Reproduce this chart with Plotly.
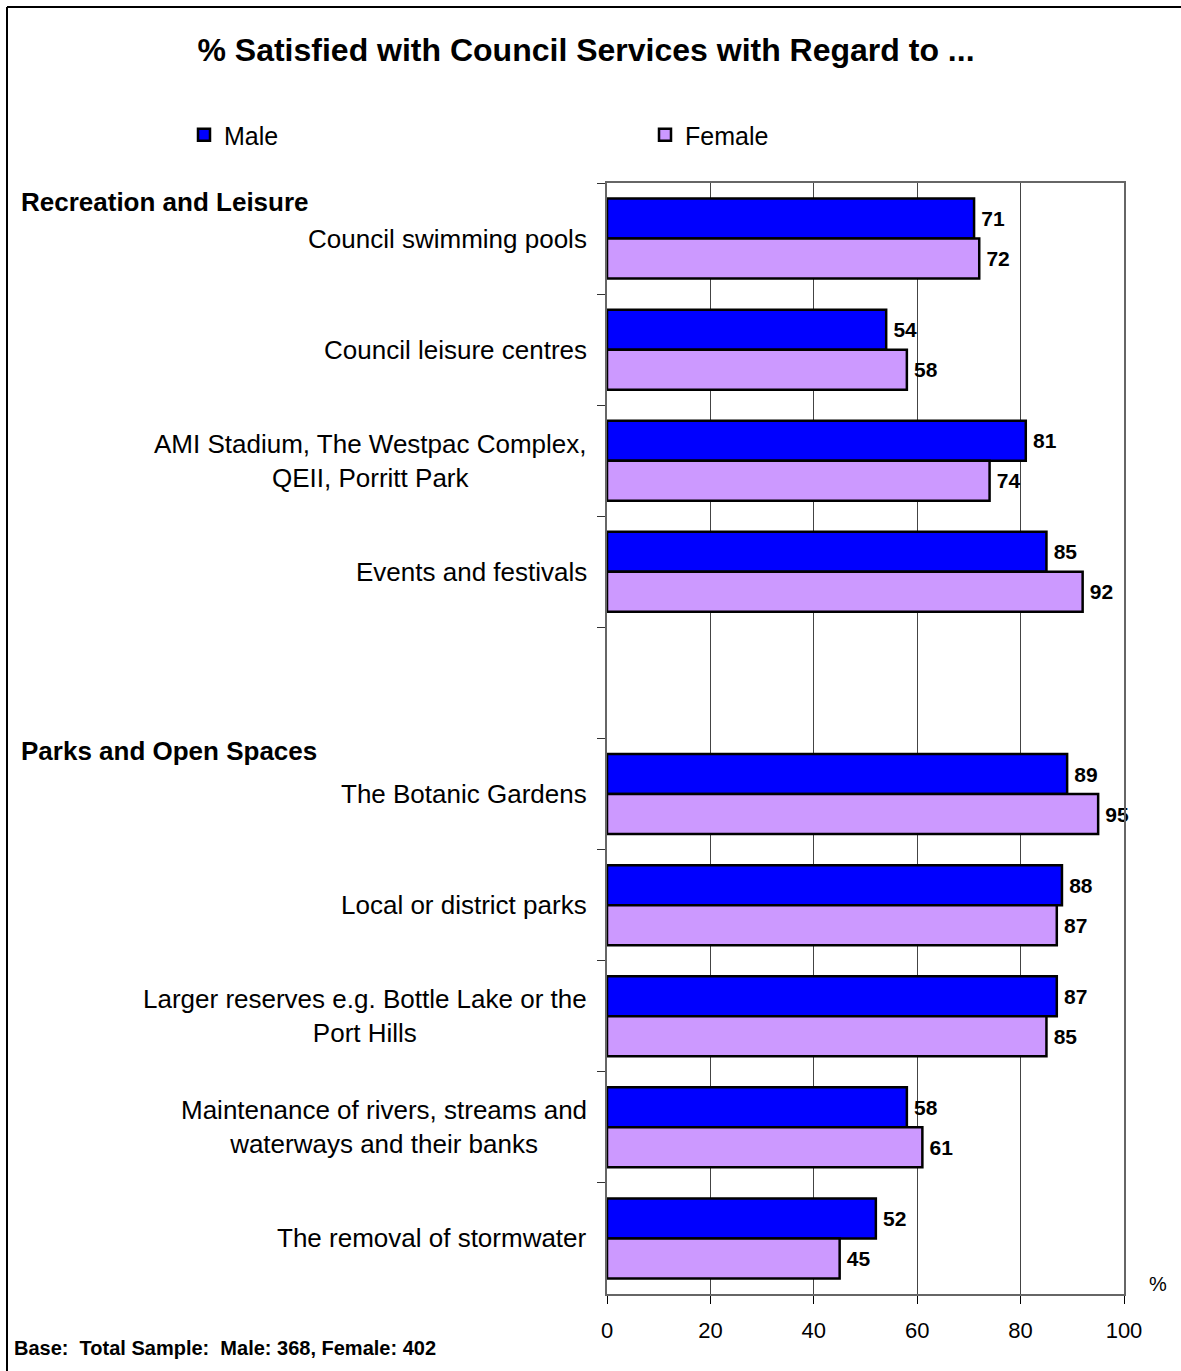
import plotly.graph_objects as go

# Survey items, top to bottom; "(gap)" is the blank slot between the two groups
items = [
    "Council swimming pools",
    "Council leisure centres",
    "AMI Stadium, The Westpac Complex,<br>QEII, Porritt Park",
    "Events and festivals",
    "(gap)",
    "The Botanic Gardens",
    "Local or district parks",
    "Larger reserves e.g. Bottle Lake or the<br>Port Hills",
    "Maintenance of rivers, streams and<br>waterways and their banks",
    "The removal of stormwater",
]
male = [71, 54, 81, 85, None, 89, 88, 87, 58, 52]
female = [72, 58, 74, 92, None, 95, 87, 85, 61, 45]

groups = ["Recreation and Leisure", "Parks and Open Spaces"]
group_first_item = [items[0], items[5]]
x_ticks = [0, 20, 40, 60, 80, 100]

FONT = "Liberation Sans, Arial, sans-serif"
W, H = 1181, 1371
L, R, T, B = 607, 57, 183, 77
PW, PH = W - L - R, H - T - B


def px_x(px):
    return (px - L) / PW


def px_y(py):
    return (H - B - py) / PH


def bar_trace(name, values, colour):
    return go.Bar(
        name=name, y=items, x=values, orientation="h",
        marker=dict(color=colour, line=dict(color="black", width=2.5)),
        text=values, texttemplate="\u2009%{x}", textposition="outside",
        textfont=dict(family=FONT, size=21, color="black", weight="bold"),
        constraintext="none", cliponaxis=False,
    )


fig = go.Figure()
fig.add_trace(bar_trace("Male", male, "#0000FF"))
fig.add_trace(bar_trace("Female", female, "#CC99FF"))

annotations = []
# item labels, right-aligned block with centred lines
for it in items:
    if it == "(gap)":
        continue
    annotations.append(dict(
        text=it, xref="paper", x=px_x(589), yref="y", y=it,
        xanchor="right", yanchor="middle", align="center", showarrow=False,
        font=dict(family=FONT, size=26, color="black"),
    ))
# group headings
for g, first, shift in zip(groups, group_first_item, [37, 43]):
    annotations.append(dict(
        text=g, xref="paper", x=px_x(19), yref="y", y=first, yshift=shift,
        xanchor="left", yanchor="middle", showarrow=False,
        font=dict(family=FONT, size=26, color="black", weight="bold"),
    ))
annotations.append(dict(
    text="%", xref="paper", x=px_x(1158), yref="paper", y=px_y(1284),
    xanchor="center", yanchor="middle", showarrow=False,
    font=dict(family=FONT, size=20, color="black"),
))
annotations.append(dict(
    text="Base:\u00a0 Total Sample:\u00a0 Male: 368, Female: 402",
    xref="paper", x=px_x(12), yref="paper", y=px_y(1348),
    xanchor="left", yanchor="middle", showarrow=False,
    font=dict(family=FONT, size=20, color="black", weight="bold"),
))

fig.update_layout(
    width=W, height=H, autosize=False,
    margin=dict(l=L, r=R, t=T, b=B, pad=0),
    paper_bgcolor="white", plot_bgcolor="white",
    barmode="group", bargap=0.28, bargroupgap=0,
    title=dict(
        text="% Satisfied with Council Services with Regard to ...",
        xref="container", x=586 / W, xanchor="center",
        yref="container", y=1 - 50 / H, yanchor="middle",
        font=dict(family=FONT, size=32, color="black", weight="bold"),
    ),
    legend=dict(
        orientation="h", xref="paper", x=px_x(184), xanchor="left",
        yref="paper", y=px_y(135), yanchor="middle",
        font=dict(family=FONT, size=25, color="black"),
        entrywidth=416, entrywidthmode="pixels",
        bgcolor="rgba(0,0,0,0)", borderwidth=0, traceorder="normal",
    ),
    xaxis=dict(
        range=[0, 100], tickvals=x_ticks, ticks="outside", ticklen=8,
        tickcolor="black", showgrid=True, gridcolor="#444444", gridwidth=1,
        showline=True, linecolor="#666666", linewidth=2, mirror=True,
        zeroline=False, tickfont=dict(family=FONT, size=22, color="black"),
        ticklabelstandoff=8, fixedrange=True,
    ),
    yaxis=dict(
        type="category", categoryorder="array", categoryarray=items,
        autorange="reversed", tickson="boundaries", ticks="outside",
        ticklen=8, tickcolor="#333333", showticklabels=False, showgrid=False,
        showline=True, linecolor="#666666", linewidth=2, mirror=True,
        fixedrange=True,
    ),
    annotations=annotations,
    shapes=[dict(
        type="line", xref="paper", yref="paper",
        x0=px_x(7), x1=px_x(1200), y0=px_y(7), y1=px_y(7),
        line=dict(color="black", width=2),
    ), dict(
        type="line", xref="paper", yref="paper",
        x0=px_x(7), x1=px_x(7), y0=px_y(7), y1=px_y(1400),
        line=dict(color="black", width=2),
    )],
)

fig.write_html("out.html")
